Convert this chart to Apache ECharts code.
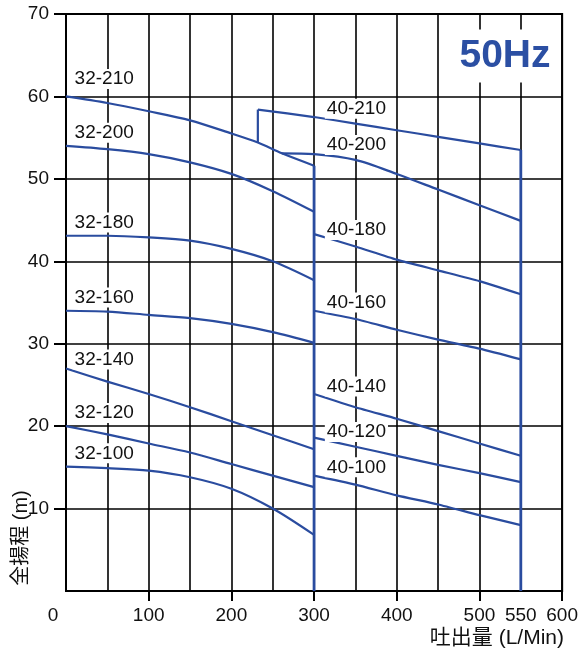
<!DOCTYPE html>
<html>
<head>
<meta charset="utf-8">
<script src="https://cdn.jsdelivr.net/npm/echarts@6/dist/echarts.min.js"></script>
<style>
html,body{margin:0;padding:0;background:#fff;}
#chart{width:581px;height:649px;}
</style>
</head>
<body>
<div id="chart"></div>
<script>
// axis labels / ticks
var flowTicks = [100, 200, 300, 400, 500, 600];
var flowLabels = [0, 100, 200, 300, 400, 500, 550, 600];
var headLabels = [10, 20, 30, 40, 50, 60, 70];

// 32 series (flow L/min -> head m)
var q32 = [0, 50, 100, 150, 200, 250, 300];
var q32_210 = [0, 50, 100, 150, 200, 232, 261, 300];
var h32_210 = [60.0, 59.2, 58.2, 57.1, 55.5, 54.4, 53.1, 51.6];
var h32_200 = [54.0, 53.6, 53.0, 52.0, 50.6, 48.5, 46.0];
var h32_180 = [43.1, 43.1, 42.9, 42.5, 41.5, 40.0, 37.7];
var h32_160 = [34.0, 33.9, 33.5, 33.1, 32.4, 31.4, 30.1];
var h32_140 = [27.0, 25.4, 23.9, 22.3, 20.6, 18.9, 17.2];
var h32_120 = [20.0, 19.0, 17.9, 16.8, 15.4, 14.0, 12.6];
var h32_100 = [15.1, 14.9, 14.6, 13.8, 12.4, 10.0, 6.8];

// 40 series
var q40 = [300, 350, 400, 450, 500, 550];
var q40_210 = [232, 300, 350, 400, 450, 500, 550];
var h40_210 = [58.4, 57.5, 56.7, 55.9, 55.1, 54.3, 53.5];
var q40_200 = [261, 300, 350, 400, 450, 500, 550];
var h40_200 = [53.1, 53.0, 52.3, 50.6, 48.7, 46.8, 44.9];
var h40_180 = [43.3, 41.8, 40.2, 38.9, 37.6, 36.0];
var h40_160 = [34.0, 33.0, 31.7, 30.5, 29.4, 28.1];
var h40_140 = [23.9, 22.3, 20.9, 19.4, 17.9, 16.4];
var h40_120 = [18.6, 17.5, 16.4, 15.3, 14.3, 13.2];
var h40_100 = [14.0, 12.9, 11.6, 10.5, 9.2, 8.0];

// step / limit lines
var step40_210 = [[232, 54.4], [232, 58.4]];
var limit300 = [[300, 0], [300, 51.6]];
var limit550 = [[550, 0], [550, 53.5]];

// curve names and where their labels sit
var labelNames = ['32-210','32-200','32-180','32-160','32-140','32-120','32-100',
                  '40-210','40-200','40-180','40-160','40-140','40-120','40-100'];
var labelQ = [8, 8, 8, 8, 8, 8, 8, 313, 313, 313, 313, 313, 313, 313];
var labelH = [62.1, 55.6, 44.7, 35.6, 28.1, 21.6, 16.7, 58.5, 54.1, 43.8, 35.0, 24.8, 19.3, 15.0];

var BLUE = '#2a4c9f';
var FONT = '"Liberation Sans", Arial, "Noto Sans CJK JP", sans-serif';

function pairs(qs, hs) {
  var out = [];
  for (var i = 0; i < qs.length; i++) out.push([qs[i], hs[i]]);
  return out;
}

function curve(name, data, smooth) {
  return {
    name: name, type: 'line', data: data, xAxisIndex: 0,
    showSymbol: false, symbol: 'none', smooth: smooth,
    lineStyle: {color: BLUE, width: 2.2},
    z: 3, silent: true
  };
}

var series = [
  curve('32-210', pairs(q32_210, h32_210), 0.3),
  curve('32-200', pairs(q32, h32_200), 0.3),
  curve('32-180', pairs(q32, h32_180), 0.3),
  curve('32-160', pairs(q32, h32_160), 0.3),
  curve('32-140', pairs(q32, h32_140), 0.3),
  curve('32-120', pairs(q32, h32_120), 0.3),
  curve('32-100', pairs(q32, h32_100), 0.3),
  curve('40-210', pairs(q40_210, h40_210), 0.2),
  curve('40-200', pairs(q40_200, h40_200), 0.3),
  curve('40-180', pairs(q40, h40_180), 0.2),
  curve('40-160', pairs(q40, h40_160), 0.2),
  curve('40-140', pairs(q40, h40_140), 0.2),
  curve('40-120', pairs(q40, h40_120), 0.2),
  curve('40-100', pairs(q40, h40_100), 0.2),
  curve('step', step40_210, false),
  curve('lim300', limit300, false),
  curve('lim550', limit550, false)
];
series[15].lineStyle.width = 2.8;
series[16].lineStyle.width = 2.8;

var labelData = [];
for (var i = 0; i < labelNames.length; i++) {
  labelData.push([labelQ[i], labelH[i], labelNames[i]]);
}
series.push({
  type: 'scatter', data: labelData, symbolSize: 0, z: 5, silent: true,
  itemStyle: {opacity: 1},
  label: {
    show: true, position: 'right', distance: 0, opacity: 1,
    formatter: function (p) { return p.value[2]; },
    color: '#111', fontSize: 19, fontFamily: FONT,
    backgroundColor: '#fff', padding: [1, 2, 0, 2]
  }
});

var chart = echarts.init(document.getElementById('chart'), null, {renderer: 'canvas'});
chart.setOption({
  backgroundColor: '#fff',
  animation: false,
  grid: {left: 66, right: 15, top: 14, bottom: 58, show: true, borderColor: '#000', borderWidth: 2, containLabel: false},
  xAxis: [{
    type: 'value', min: 0, max: 600, interval: 50,
    axisLine: {show: true, lineStyle: {color: '#000', width: 2}},
    axisTick: {show: false},
    axisLabel: {show: false},
    splitLine: {show: true, lineStyle: {color: '#000', width: 1.6}}
  }, {
    type: 'value', min: 0, max: 600, interval: 100, position: 'bottom',
    axisLine: {show: false},
    axisTick: {show: true, length: 10, customValues: flowTicks, lineStyle: {color: '#000', width: 2}},
    axisLabel: {
      show: true, customValues: flowLabels, margin: 15,
      color: '#111', fontSize: 19, fontFamily: FONT,
      formatter: function (v) { return v === 0 ? '{z|0}' : String(v); },
      rich: {z: {fontSize: 19, fontFamily: FONT, color: '#111', padding: [0, 26, 0, 0]}}
    },
    splitLine: {show: false}
  }],
  yAxis: {
    type: 'value', min: 0, max: 70, interval: 10,
    axisLine: {show: true, lineStyle: {color: '#000', width: 2}},
    axisTick: {show: true, length: 12, customValues: headLabels, lineStyle: {color: '#000', width: 2}},
    axisLabel: {show: true, customValues: headLabels, margin: 17, color: '#111', fontSize: 19, fontFamily: FONT},
    splitLine: {show: true, lineStyle: {color: '#000', width: 1.6}}
  },
  graphic: [{
    type: 'text', z: 10, x: 505, y: 56,
    style: {
      text: '50Hz', fill: '#2b4fa3', font: 'bold 39px ' + FONT,
      align: 'center', verticalAlign: 'middle',
      backgroundColor: '#fff', padding: [8, 5, 6, 5]
    }
  }, {
    type: 'text', z: 10, x: 21, y: 538, rotation: Math.PI / 2,
    style: {
      text: '全揚程 (m)', fill: '#111', font: '20px ' + FONT,
      align: 'center', verticalAlign: 'middle'
    }
  }, {
    type: 'text', z: 10, x: 564, y: 638,
    style: {
      text: '吐出量 (L/Min)', fill: '#111', font: '21px ' + FONT,
      align: 'right', verticalAlign: 'middle'
    }
  }],
  series: series
});
</script>
</body>
</html>
